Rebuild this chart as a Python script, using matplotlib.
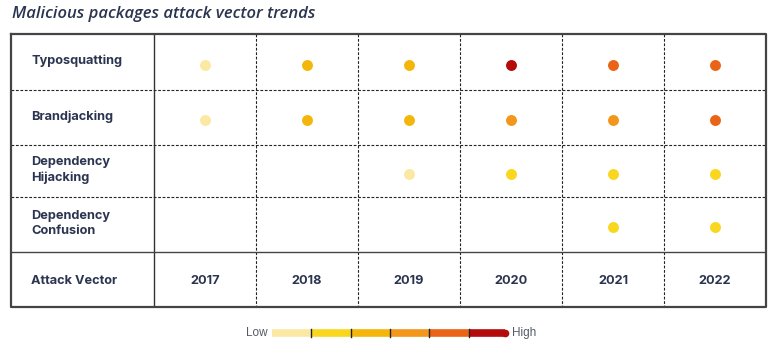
import matplotlib.pyplot as plt

# Data
years = ['2017', '2018', '2019', '2020', '2021', '2022']
vectors = ['Typosquatting', 'Brandjacking', 'Dependency\nHijacking', 'Dependency\nConfusion']
# intensity level 1 (low) .. 6 (high); 0 = no dot
levels = [
    [1, 3, 3, 6, 5, 5],
    [1, 3, 3, 4, 4, 5],
    [0, 0, 1, 2, 2, 2],
    [0, 0, 0, 0, 2, 2],
]
level_colors = ['#fbe8a2', '#f9d71e', '#f5b60c', '#f2961c', '#ea6418', '#b40b0b']
header_label = 'Attack Vector'
title = 'Malicious packages attack vector trends'

navy = '#2c3550'
plt.rcParams['font.family'] = ['Inter', 'DejaVu Sans']

fig = plt.figure(figsize=(7.8, 3.51), dpi=100)
W, H = 780, 351

# row boundaries of the table (rows are not all the same height)
row_edges = [0, 1.02, 2.04, 2.98, 4.0, 5.0]
nrow = len(vectors) + 1

ax = fig.add_axes([11 / W, 1 - 307 / H, 755 / W, 273 / H])
label_w = 1.4
ax.set_xlim(-label_w, len(years))
ax.set_ylim(row_edges[-1], 0)
ax.axis('off')

dash = (0, (2.5, 1.5))
for i in range(1, len(years)):
    ax.plot([i, i], [0, row_edges[-1]], color='#222222', lw=0.8, ls=dash)
for j in range(1, len(vectors)):
    ax.plot([-label_w, len(years)], [row_edges[j]] * 2, color='#222222', lw=0.8, ls=dash)
ax.plot([0, 0], [0, row_edges[-1]], color='#333333', lw=1.0)
ax.plot([-label_w, len(years)], [row_edges[len(vectors)]] * 2, color='#444444', lw=1.0)
ax.plot([-label_w, len(years), len(years), -label_w, -label_w],
        [0, 0, row_edges[-1], row_edges[-1], 0], color='#444444', lw=1.6, clip_on=False)

centers = [(row_edges[j] + row_edges[j + 1]) / 2 for j in range(nrow)]

for j, name in enumerate(vectors):
    ax.text(-label_w + 0.2, centers[j] - 0.02, name, ha='left', va='center', fontsize=9.2,
            fontweight='bold', color=navy, linespacing=1.3)
ax.text(-label_w + 0.2, centers[-1] + 0.02, header_label, ha='left', va='center',
        fontsize=9.2, fontweight='bold', color=navy)
for i, y in enumerate(years):
    ax.text(i + 0.5, centers[-1] + 0.02, y, ha='center', va='center', fontsize=9.2,
            fontweight='bold', color=navy)

for j, row in enumerate(levels):
    for i, lv in enumerate(row):
        if lv > 0:
            ax.scatter(i + 0.5, centers[j] + 0.05, s=62, color=level_colors[lv - 1], lw=0, zorder=3)

fig.text(12 / W, 1 - 14 / H, title, ha='left', va='center', fontsize=12,
         fontstyle='italic', fontweight='semibold', color=navy, family=['Open Sans', 'DejaVu Sans'])

# legend scale
lax = fig.add_axes([272 / W, 1 - 340 / H, 236 / W, 14 / H])
lax.set_xlim(0, len(level_colors))
lax.set_ylim(-1, 1)
lax.axis('off')
for k, c in enumerate(level_colors):
    end = k + 1 - (0.08 if k == len(level_colors) - 1 else 0)
    lax.plot([k, end], [0, 0], color=c, lw=5.5, solid_capstyle='butt')
lax.scatter([len(level_colors) - 0.08], [0], s=30, color=level_colors[-1], lw=0, clip_on=False)
for k in range(1, len(level_colors)):
    lax.plot([k, k], [-0.55, 0.55], color='#222222', lw=1.0)
lax.text(-0.12, 0, 'Low', ha='right', va='center', fontsize=8.5, color='#555a66',
         family=['Liberation Sans', 'DejaVu Sans'])
lax.text(len(level_colors) + 0.1, 0, 'High', ha='left', va='center', fontsize=8.5,
         color='#555a66', family=['Liberation Sans', 'DejaVu Sans'])

fig.savefig('out.png', dpi=100, facecolor='white')
